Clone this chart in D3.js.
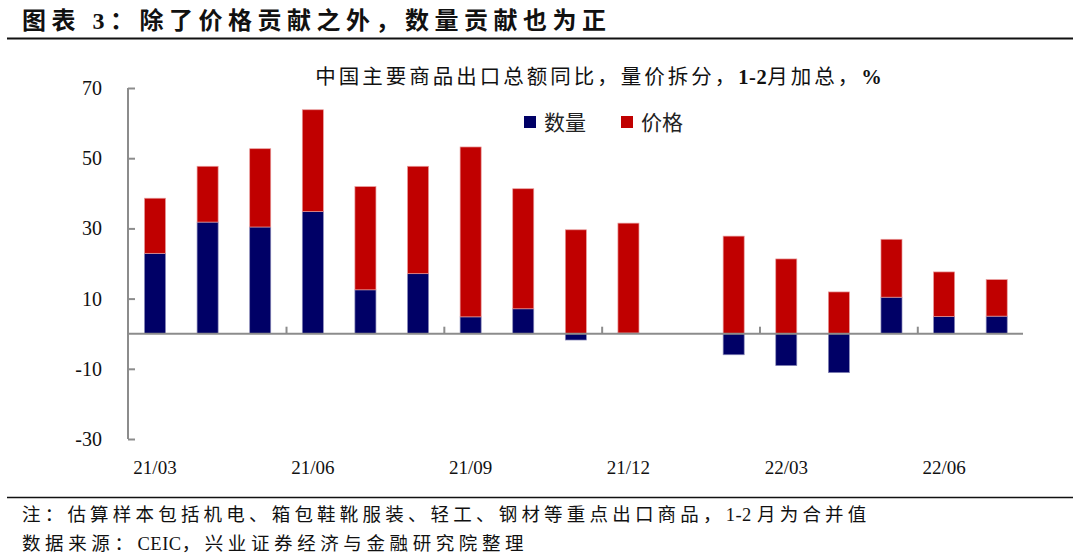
<!DOCTYPE html>
<html><head><meta charset="utf-8">
<script src="https://cdn.jsdelivr.net/npm/d3@7"></script>
<style>
html,body{margin:0;padding:0;background:#fff;}
svg{display:block;}
</style></head>
<body>
<svg id="c" width="1080" height="557"></svg>
<script>
const categories = ["21/03","21/04","21/05","21/06","21/07","21/08","21/09","21/10","21/11","21/12","22/01","22/02","22/03","22/04","22/05","22/06","22/07"];
const quantity = [22.9,31.8,30.4,34.8,12.5,17.1,4.8,7.1,-1.8,0.2,null,-6.0,-9.1,-11.1,10.4,4.9,5.0];
const price    = [15.7,15.9,22.3,29.0,29.4,30.6,48.4,34.2,29.6,31.3,null,27.8,21.3,11.9,16.5,12.7,10.4];
const xTickLabels = ["21/03","21/06","21/09","21/12","22/03","22/06"];
const yTicks = [-30,-10,10,30,50,70];
const seriesNames = ["数量","价格"];
const colors = ["#000066","#C00000"];

const svg = d3.select("#c");
const cjk = "'Liberation Serif','Noto Sans CJK SC',serif";

// Title
svg.append("text").attr("x",22).attr("y",29)
  .attr("font-family",cjk).attr("font-weight","bold").attr("font-size",24)
  .attr("letter-spacing",5.5).attr("fill","#111")
  .text("图表 3：除了价格贡献之外，数量贡献也为正");
svg.append("line").attr("x1",7).attr("x2",1073).attr("y1",38.5).attr("y2",38.5)
  .attr("stroke","#111").attr("stroke-width",2);

// Subtitle
const sub = svg.append("text").attr("x",600).attr("y",84).attr("text-anchor","middle")
  .attr("font-family",cjk).attr("font-size",20.5).attr("letter-spacing",3).attr("fill","#111");
sub.append("tspan").text("中国主要商品出口总额同比，量价拆分，");
sub.append("tspan").attr("font-weight","bold").attr("letter-spacing",0.5).text("1-2");
sub.append("tspan").text("月加总，");
sub.append("tspan").attr("font-weight","bold").text("%");

// Scales
const x = d3.scaleBand().domain(categories).range([128.7,1023]).paddingInner(0.6).paddingOuter(0.3);
const y = d3.scaleLinear().domain([-30,70]).range([439,88]);

const table = categories.map((c,i)=>({cat:c, q:quantity[i]||0, p:price[i]||0}));
const stack = d3.stack().keys(["q","p"]).offset(d3.stackOffsetDiverging);
const stacked = stack(table);

const g = svg.append("g");
stacked.forEach((s,si)=>{
  g.selectAll(null).data(s.filter(d=>d[1]!==d[0])).join("rect")
    .attr("x",d=>x(d.data.cat))
    .attr("width",x.bandwidth())
    .attr("y",d=>y(Math.max(d[0],d[1])))
    .attr("height",d=>Math.abs(y(d[0])-y(d[1])))
    .attr("fill",colors[si])
    .attr("stroke",si===0?"#8a8ab8":"#e89a9a")
    .attr("stroke-width",0.7);
});

const axisColor = "#8c8c8c";
// Y axis
const yAxis = d3.axisRight(y).tickValues(yTicks).tickSize(7).tickFormat("");
const ya = svg.append("g").attr("transform","translate(128,0)").call(yAxis);
ya.select(".domain").attr("stroke",axisColor).attr("stroke-width",2).attr("d","M0,88V439");
ya.selectAll(".tick line").attr("stroke",axisColor).attr("stroke-width",2);
svg.append("g").selectAll("text").data(yTicks).join("text")
  .attr("x",102).attr("y",d=>y(d)+7).attr("text-anchor","end")
  .attr("font-family","'Liberation Serif',serif").attr("font-size",20).attr("fill","#111")
  .text(d=>d);

// Zero line with ticks
svg.append("line").attr("x1",128).attr("x2",1023).attr("y1",y(0)).attr("y2",y(0))
  .attr("stroke",axisColor).attr("stroke-width",2);
const step = x.step();
const tickCats = xTickLabels.slice(1);
svg.append("g").selectAll("line").data(tickCats).join("line")
  .attr("x1",d=>x(d)-step*x.paddingInner()/2).attr("x2",d=>x(d)-step*x.paddingInner()/2)
  .attr("y1",y(0)).attr("y2",y(0)-7)
  .attr("stroke",axisColor).attr("stroke-width",2);

// X labels
svg.append("g").selectAll("text").data(xTickLabels).join("text")
  .attr("x",d=>x(d)+x.bandwidth()/2).attr("y",474).attr("text-anchor","middle")
  .attr("font-family","'Liberation Serif',serif").attr("font-size",19).attr("fill","#111")
  .text(d=>d);

// Legend
const leg = [{n:seriesNames[0],c:colors[0],x:524},{n:seriesNames[1],c:colors[1],x:621}];
leg.forEach(l=>{
  svg.append("rect").attr("x",l.x).attr("y",116).attr("width",12).attr("height",12).attr("fill",l.c);
  svg.append("text").attr("x",l.x+20).attr("y",130).attr("font-family",cjk)
    .attr("font-size",21).attr("fill","#222").text(l.n);
});

// Footer
svg.append("line").attr("x1",7).attr("x2",1073).attr("y1",497.5).attr("y2",497.5)
  .attr("stroke","#111").attr("stroke-width",1.5);
const f1 = svg.append("text").attr("x",22).attr("y",521).attr("font-family",cjk).attr("font-size",18.5)
  .attr("letter-spacing",4.2).attr("fill","#111");
f1.append("tspan").text("注：估算样本包括机电、箱包鞋靴服装、轻工、钢材等重点出口商品，");
f1.append("tspan").attr("letter-spacing",0.5).text("1-2\u00a0");
f1.append("tspan").text("月为合并值");
const f2 = svg.append("text").attr("x",22).attr("y",550).attr("font-family",cjk).attr("font-size",18.5)
  .attr("letter-spacing",4.6).attr("fill","#111");
f2.append("tspan").text("数据来源：");
f2.append("tspan").attr("letter-spacing",0.5).text("CEIC");
f2.append("tspan").text("，兴业证券经济与金融研究院整理");
</script>
</body></html>
